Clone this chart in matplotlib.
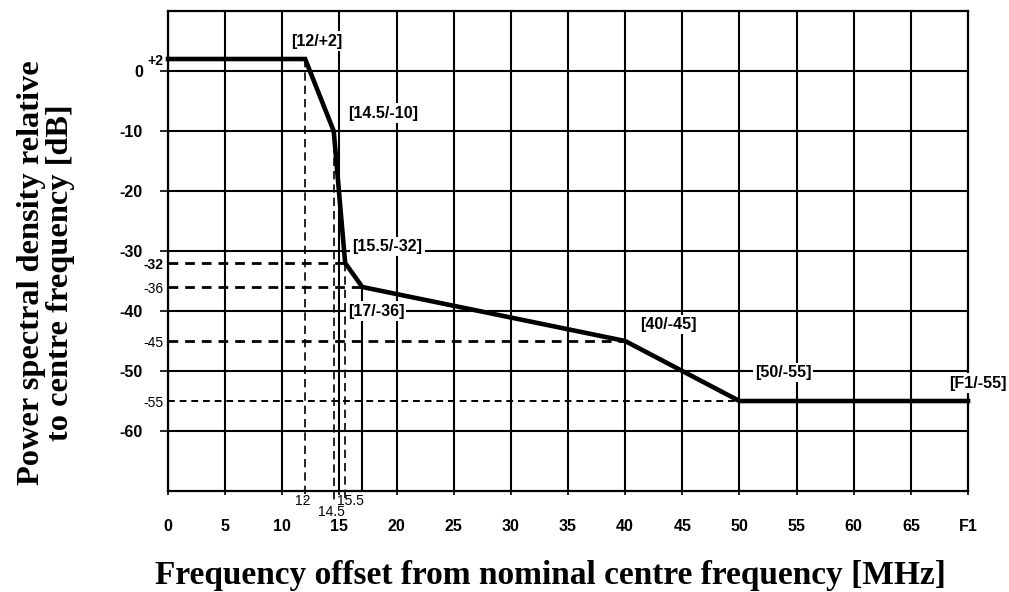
import matplotlib
matplotlib.use("Agg")
import matplotlib.pyplot as plt

# ---- data ----
freq = [0, 12, 14.5, 15.5, 17, 40, 50, 70]          # MHz (70 = F1)
psd = [2, 2, -10, -32, -36, -45, -55, -55]          # dB
point_labels = ["[12/+2]", "[14.5/-10]", "[15.5/-32]", "[17/-36]",
                "[40/-45]", "[50/-55]", "[F1/-55]"]
x_ticks = [0, 5, 10, 15, 20, 25, 30, 35, 40, 45, 50, 55, 60, 65, 70]
x_ticklabels = ["0", "5", "10", "15", "20", "25", "30", "35", "40", "45",
                "50", "55", "60", "65", "F1"]
y_ticks = [0, -10, -20, -30, -40, -50, -60]
y_minor = [2, -32, -36, -45, -55]
y_minor_labels = ["+2", "-32", "-36", "-45", "-55"]
x_marks = [12, 14.5, 15.5]
x_mark_labels = ["12", "14.5", "15.5"]

SANS = "Liberation Sans"
SERIF = "Liberation Serif"

fig = plt.figure(figsize=(10.09, 5.92), dpi=100)
ax = fig.add_axes([0.1665, 0.1706, 0.7929, 0.8108])
ax.set_xlim(0, 70)
ax.set_ylim(-70, 10)

# grid
for xv in x_ticks[:-1]:
    ax.axvline(xv, color="black", lw=1.5, zorder=1)
for yv in y_ticks:
    ax.axhline(yv, color="black", lw=1.5, zorder=1)
# extra solid vertical at 17 below the curve
ax.plot([freq[4], freq[4]], [psd[4], -70], color="black", lw=1.5, zorder=1)

# dashed horizontal reference lines
for i, lw in [(3, 2.0), (4, 2.0), (5, 2.0), (6, 1.4)]:
    ax.plot([0, freq[i]], [psd[i], psd[i]], color="black", lw=lw,
            ls=(0, (3.5, 2.5)), zorder=2)
# dashed vertical reference lines
for i in [1, 2, 3]:
    ax.plot([freq[i], freq[i]], [psd[i], -71.5], color="black", lw=1.2,
            ls=(0, (5, 3)), zorder=2, clip_on=False)

# mask curve
ax.plot(freq, psd, color="black", lw=3.3, zorder=4, solid_joinstyle="miter",
        clip_on=False)

for s in ax.spines.values():
    s.set_linewidth(1.6)

# ticks
ax.set_xticks(x_ticks)
ax.set_xticklabels(x_ticklabels, fontfamily=SANS, fontweight="bold", fontsize=11.5)
ax.tick_params(axis="x", which="major", direction="out", length=3, width=1.2, pad=17)
ax.set_yticks(y_ticks)
ax.set_yticklabels([str(v) for v in y_ticks], fontfamily=SANS, fontweight="bold",
                   fontsize=11.5)
ax.tick_params(axis="y", which="major", direction="out", length=6, width=1.2, pad=12)
ax.set_yticks(y_minor, minor=True)
ax.set_yticklabels(y_minor_labels, minor=True, fontfamily=SANS, fontsize=10)
ax.tick_params(axis="y", which="minor", length=0, pad=3.5)
for t in ax.get_yticklabels(minor=True):
    if t.get_text() in ("+2", "-32"):
        t.set_fontweight("bold")

# small labels under the x axis for 12 / 14.5 / 15.5
offsets = [(-1.5, -7), (-2, -15), (3.5, -7)]
for xv, lab, (dx, dy) in zip(x_marks, x_mark_labels, offsets):
    ax.annotate(lab, (xv, -70), xytext=(dx, dy), textcoords="offset points",
                ha="center", va="center", fontfamily=SANS, fontsize=10,
                annotation_clip=False)

# point labels (data positions of each label)
label_pos = [(13.0, 5.0), (18.8, -7.0), (19.2, -29.3), (18.2, -40.0),
             (43.8, -42.3), (53.8, -50.3), (70.9, -52.0)]
for lab, (lx, ly) in zip(point_labels, label_pos):
    ax.text(lx, ly, lab, ha="center", va="center", fontfamily=SANS,
            fontweight="bold", fontsize=11.5, zorder=5, clip_on=False,
            bbox=dict(facecolor="white", edgecolor="none", pad=1.5))

ax.set_xlabel("Frequency offset from nominal centre frequency [MHz]",
              fontfamily=SERIF, fontweight="bold", fontsize=24, va="center")
ax.xaxis.set_label_coords(0.4775, -0.177)
ax.set_ylabel("Power spectral density relative\nto centre frequency [dB]",
              fontfamily=SERIF, fontweight="bold", fontsize=23.3, va="center",
              linespacing=1.0)
ax.yaxis.set_label_coords(-0.152, 0.454)

fig.savefig("out.png", dpi=100)
